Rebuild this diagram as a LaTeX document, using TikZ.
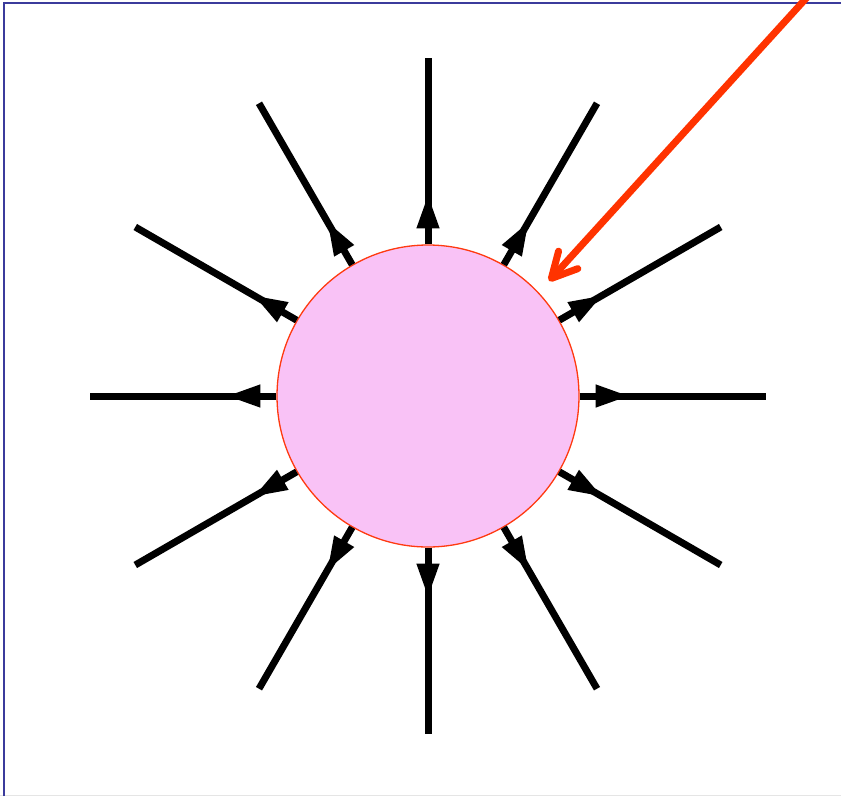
\documentclass[tikz,border=0pt]{standalone}
\usetikzlibrary{arrows.meta,decorations.markings,calc}
\definecolor{frameblue}{HTML}{3B3B9C}
\definecolor{ballpink}{HTML}{F9C2F6}
\definecolor{ballred}{HTML}{FF3A10}
\definecolor{arrowred}{HTML}{FF3300}
\tikzset{
  ball/.style={circle, draw=ballred, line width=1.3pt, fill=ballpink, minimum size=302pt, inner sep=0pt},
  ray/.style={line width=7pt, black, postaction={decorate}, decoration={markings,
     mark=at position 50pt with {\arrow{Triangle[length=34pt,width=21pt]}}}},
  pointer/.style={line width=7pt, arrowred, line cap=round, -{Straight Barb[length=25pt,width=26pt,line cap=round,line join=round]}},
}
\begin{document}
\begin{tikzpicture}[x=1pt,y=-1pt]
\useasboundingbox (0,0) rectangle (841,796);
\fill[white] (0,0) rectangle (841,796);
\draw[gray!20, line width=1pt] (0,795.5) -- (841,795.5);
\draw[frameblue, line width=2pt] (4,796) -- (4,3) -- (841,3);
\node[ball] (c) at (428,396) {};
\foreach \a in {0,30,...,330}{
  \coordinate (o\a) at ($(c.center)+(-\a:338)$);
  \draw[ray] (c.\a) -- (o\a);
}
\coordinate (ptail) at (810,-6);
\coordinate (ptip) at (549,281);
\begin{scope}
\clip (0,0) rectangle (841,796);
\draw[pointer] (ptail) -- (ptip);
\end{scope}
\end{tikzpicture}
\end{document}
